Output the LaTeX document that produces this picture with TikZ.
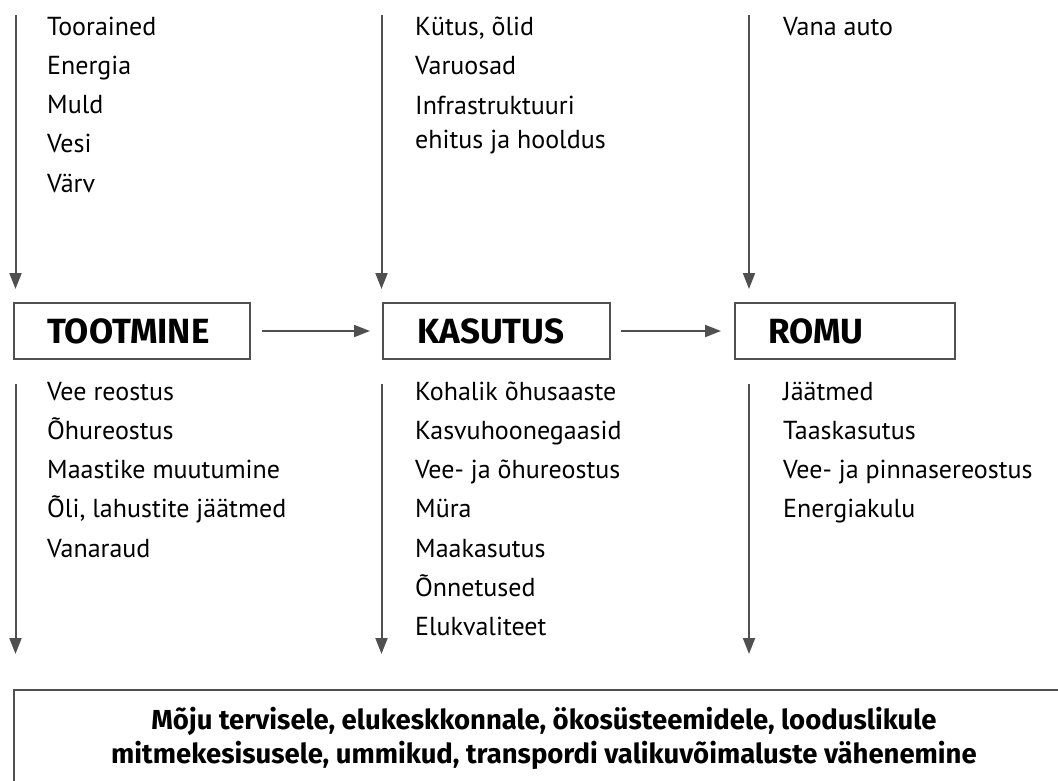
\documentclass[tikz,border=0pt]{standalone}
\usepackage{fontspec}
\setmainfont{PT Sans}
\newfontfamily\boldf{Fira Sans}
\usetikzlibrary{arrows.meta}
\definecolor{ln}{HTML}{505050}
\begin{document}
\begin{tikzpicture}[x=1pt,y=-1pt,
  arr/.style={draw=ln,line width=2pt,-{Triangle[width=12pt,length=16pt]}},
  stage/.style={draw=ln,line width=2pt,minimum height=56pt,anchor=north west,inner sep=0pt},
  stagetxt/.style={anchor=base west,inner sep=0pt,font=\boldf\bfseries\fontsize{35}{40}\selectfont},
  item/.style={anchor=base west,inner sep=0pt,font=\fontsize{26}{30}\selectfont},
  impacttxt/.style={anchor=base,inner sep=0pt,font=\boldf\bfseries\fontsize{27.5}{32}\selectfont}]
\useasboundingbox (0,0) rectangle (1058,780);
% stage boxes
\node[stage,minimum width=236pt] (tootmine) at (13,302) {};
\node[stage,minimum width=227pt] (kasutus) at (382,302) {};
\node[stage,minimum width=220pt] (romu) at (734,302) {};
\node[stagetxt] (t1) at (47,343) {TOOTMINE};
\node[stagetxt] (t2) at (417,343) {KASUTUS};
\node[stagetxt] (t3) at (768,343) {ROMU};
% horizontal arrows
\draw[arr,shorten <=11pt,shorten >=12pt] (tootmine.east) -- (kasutus.west);
\draw[arr,shorten <=10pt,shorten >=13pt] (kasutus.east) -- (romu.west);
% vertical arrows
\coordinate (a1s) at (15.5,15); \coordinate (a1e) at (15.5,289);
\coordinate (a2s) at (381.5,15); \coordinate (a2e) at (381.5,289);
\coordinate (a3s) at (749,15); \coordinate (a3e) at (749,289);
\coordinate (b1s) at (15.5,384); \coordinate (b1e) at (15.5,654);
\coordinate (b2s) at (381.5,384); \coordinate (b2e) at (381.5,654);
\coordinate (b3s) at (749,384); \coordinate (b3e) at (749,654);
\foreach \p in {a1,a2,a3,b1,b2,b3} \draw[arr] (\p s) -- (\p e);
% top lists
\foreach \t [count=\i] in {Toorained,Energia,Muld,Vesi,Värv}
  \node[item] (ti\i) at (47,{35+39.3*(\i-1)}) {\t};
\node[item] (mi1) at (415,35) {Kütus, õlid};
\node[item] (mi2) at (415,74.5) {Varuosad};
\node[item] (mi3) at (415,114) {Infrastruktuuri};
\node[item] (mi4) at (415,148) {ehitus ja hooldus};
\node[item] (ri1) at (783,35) {Vana auto};
% bottom lists
\foreach \t [count=\i] in {Vee reostus,Õhureostus,Maastike muutumine,{Õli, lahustite jäätmed},Vanaraud}
  \node[item] (lb\i) at (47,{400+39.3*(\i-1)}) {\t};
\foreach \t [count=\i] in {Kohalik õhusaaste,Kasvuhoonegaasid,Vee- ja õhureostus,Müra,Maakasutus,Õnnetused,Elukvaliteet}
  \node[item] (mb\i) at (415,{400+39.3*(\i-1)}) {\t};
\foreach \t [count=\i] in {Jäätmed,Taaskasutus,Vee- ja pinnasereostus,Energiakulu}
  \node[item] (rb\i) at (783,{400+39.3*(\i-1)}) {\t};
% bottom box (open at the bottom, runs off the right edge)
\coordinate (bbl) at (14,781); \coordinate (bbtl) at (14,690); \coordinate (bbtr) at (1080,690);
\draw[ln,line width=2pt] (bbl) -- (bbtl) -- (bbtr);
\node[impacttxt] (impact) at (544,729)
  {Mõju tervisele, elukeskkonnale, ökosüsteemidele, looduslikule};
\node[impacttxt] (impact2) at (544,763)
  {mitmekesisusele, ummikud, transpordi valikuvõimaluste vähenemine};
\end{tikzpicture}
\end{document}
